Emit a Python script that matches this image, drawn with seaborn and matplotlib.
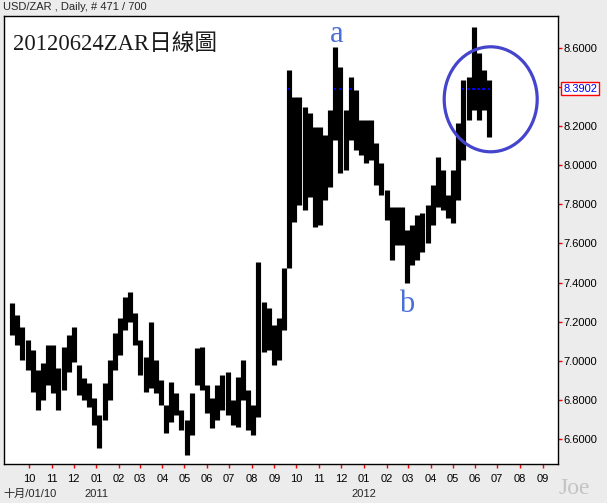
import numpy as np
import pandas as pd
import matplotlib
matplotlib.use('Agg')
import matplotlib.pyplot as plt
import seaborn as sns
from matplotlib.patches import Ellipse

# USD/ZAR, weekly high / low
week_end = pd.date_range('2010-09-10', periods=94, freq='W-FRI')
high = [7.295, 7.234, 7.173, 7.107, 7.056, 6.954, 6.989, 7.081, 7.081, 6.964,
        7.071, 7.132, 7.173, 6.979, 6.913, 6.887, 6.811, 6.724, 6.887, 7.005,
        7.142, 7.219, 7.326, 7.352, 7.244, 7.107, 7.020, 7.198, 7.005, 6.903,
        6.775, 6.892, 6.836, 6.750, 6.698, 6.836, 7.066, 7.071, 6.877, 6.811,
        6.877, 6.928, 6.943, 6.800, 6.918, 7.005, 6.852, 6.775, 7.505, 7.300,
        7.270, 7.183, 7.219, 7.474, 8.484, 8.346, 8.346, 8.295, 8.265, 8.193,
        8.193, 8.153, 8.280, 8.602, 8.500, 8.280, 8.448, 8.382, 8.229, 8.229,
        8.229, 8.112, 8.010, 7.872, 7.785, 7.785, 7.785, 7.668, 7.693, 7.744,
        7.755, 7.795, 7.897, 8.040, 7.974, 7.846, 7.974, 8.214, 8.433, 8.448,
        8.704, 8.571, 8.484, 8.433]
low = [7.132, 7.081, 7.005, 6.954, 6.841, 6.750, 6.800, 6.877, 6.836, 6.750,
       6.852, 6.943, 6.994, 6.826, 6.800, 6.765, 6.673, 6.556, 6.698, 6.800,
       6.954, 7.030, 7.158, 7.198, 7.081, 6.928, 6.841, 6.862, 6.836, 6.775,
       6.632, 6.688, 6.724, 6.647, 6.520, 6.622, 6.877, 6.852, 6.734, 6.658,
       6.698, 6.750, 6.724, 6.673, 6.663, 6.800, 6.647, 6.622, 6.714, 7.045,
       7.056, 6.979, 7.005, 7.158, 7.474, 7.709, 7.795, 7.770, 7.836, 7.683,
       7.693, 7.821, 7.887, 8.127, 7.959, 7.974, 8.127, 8.076, 8.051, 8.010,
       8.025, 7.897, 7.846, 7.719, 7.515, 7.591, 7.591, 7.397, 7.489, 7.515,
       7.556, 7.602, 7.693, 7.785, 7.770, 7.729, 7.704, 7.821, 8.025, 8.229,
       8.280, 8.229, 8.280, 8.142]
last_close = 8.3902

month_ticks = pd.date_range('2010-10-01', '2012-09-01', freq='MS')
month_labels = [d.strftime('%m') for d in month_ticks]
price_ticks = [6.6, 6.8, 7.0, 7.2, 7.4, 7.6, 7.8, 8.0, 8.2, 8.4, 8.6]

mid = week_end - pd.Timedelta(days=2)
df = pd.DataFrame({
    'week': np.repeat(np.arange(len(mid)), 2),
    'date': np.repeat(mid, 2),
    'price': np.column_stack([high, low]).ravel(),
})

sns.set_theme(style='white')
plt.rcParams['font.family'] = ['Liberation Sans', 'Noto Sans CJK TC', 'DejaVu Sans']
plt.rcParams['lines.solid_capstyle'] = 'butt'

bg = '#ececec'
fig = plt.figure(figsize=(6.07, 5.03), dpi=100, facecolor=bg)
ax = fig.add_axes([4/607, 39/503, 554/607, 448/503])
ax.set_facecolor('white')

sns.lineplot(data=df, x='date', y='price', units='week', estimator=None,
             color='black', linewidth=3.7, sort=False, legend=False, ax=ax)

# blue dashes of the last price where the bars cross it
for d, h, l in zip(mid, high, low):
    if l <= last_close <= h:
        ax.hlines(last_close, d - pd.Timedelta(days=2.2), d + pd.Timedelta(days=1.2),
                  color='#0000ff', lw=1.3, zorder=3)

ax.set_xlim(pd.Timestamp('2010-08-27 18:00'), pd.Timestamp('2012-09-22'))
ax.set_ylim(6.474, 8.7615)
ax.set_xticks(month_ticks)
ax.set_xticklabels(month_labels, fontsize=8)
ax.set_yticks(price_ticks)
ax.set_yticklabels([f'{v:.4f}' for v in price_ticks], fontsize=8)
ax.yaxis.tick_right()
ax.tick_params(axis='y', which='both', direction='out', length=3, width=1,
               color='red', labelcolor='black', pad=1, right=True, left=False)
ax.tick_params(axis='x', direction='out', length=3, width=1, color='red',
               labelcolor='black', pad=4, bottom=True)
ax.set_xlabel('')
ax.set_ylabel('')
for s in ax.spines.values():
    s.set_color('black')
    s.set_linewidth(1)

# last price box
ax.text(1.0 + 5/554, last_close, f'{last_close:.4f}', transform=ax.get_yaxis_transform(),
        fontsize=8, color='#0000ff', va='center', ha='left',
        bbox=dict(boxstyle='square,pad=0.15', fc='white', ec='red', lw=1))

# year row under the months
trans = ax.get_xaxis_transform()
ax.text(pd.Timestamp('2011-01-01'), -30/448, '2011', transform=trans, ha='center',
        va='center', fontsize=8)
ax.text(pd.Timestamp('2012-01-01'), -30/448, '2012', transform=trans, ha='center',
        va='center', fontsize=8)
fig.text(3/607, 1 - 494/503, '十月/01/10', ha='left', va='center', fontsize=8)

# header and title
fig.text(3/607, 1 - 7.5/503, 'USD/ZAR , Daily, # 471 / 700', ha='left', va='center',
         fontsize=8)
ax.text(9/554, (464 - 45)/448, '20120624ZAR日線圖', transform=ax.transAxes,
        ha='left', va='center', fontsize=16.3, color='#1a1a1a',
        family=['Liberation Serif', 'Noto Sans CJK TC'])

# wave marks
ax.text(pd.Timestamp('2011-11-25'), 8.665, 'a', ha='center', va='center',
        fontsize=22, color='#4a6fd6', family='Liberation Serif')
ax.text(pd.Timestamp('2012-02-29'), 7.29, 'b', ha='center', va='center',
        fontsize=22, color='#4a6fd6', family='Liberation Serif')

ax.add_patch(Ellipse(((490.7 - 4)/554, (464 - 99.3)/448), 93/554, 105/448,
                     transform=ax.transAxes, fill=False, ec='#4444cc', lw=2.3,
                     zorder=4))

fig.text(574/607, 1 - 488/503, 'Joe', ha='center', va='center', fontsize=17,
         color='#c4c4c4', family='Liberation Serif')

fig.savefig('out.png', dpi=100, facecolor=bg)
